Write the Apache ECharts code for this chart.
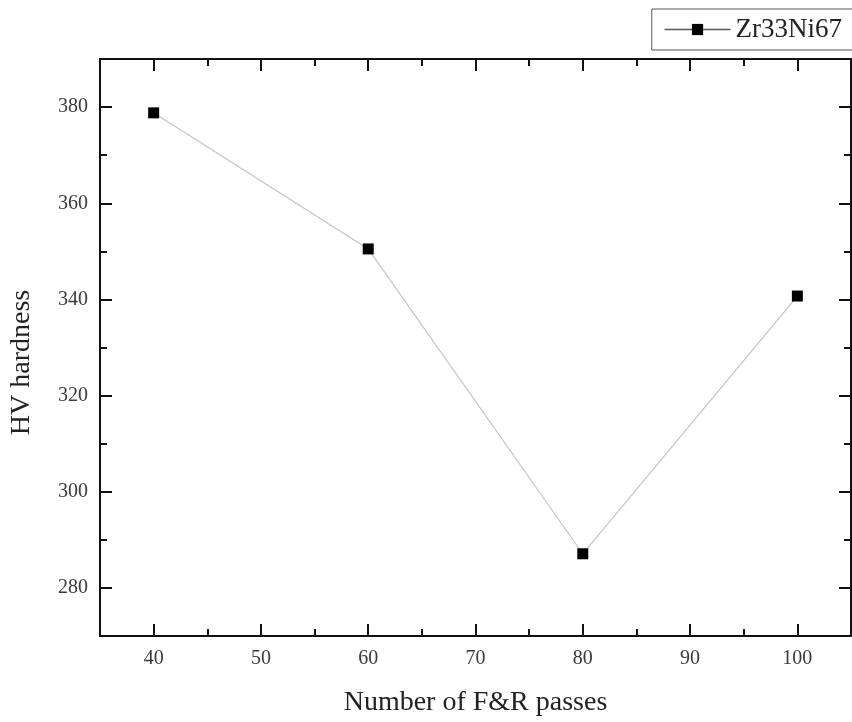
<!DOCTYPE html>
<html>
<head>
<meta charset="utf-8">
<script src="https://cdn.jsdelivr.net/npm/echarts@6/dist/echarts.min.js"></script>
<style>
  html, body { margin: 0; padding: 0; background: #fff; }
  #chart { width: 852px; height: 722px; }
</style>
</head>
<body>
<div id="chart"></div>
<script>
// F&R passes vs. Vickers hardness for the Zr33Ni67 alloy
const passes = [40, 60, 80, 100];
const hardness = [378.8, 350.5, 287.1, 340.7];
const seriesName = 'Zr33Ni67';
const xTickLabels = [40, 50, 60, 70, 80, 90, 100];
const yTickLabels = [280, 300, 320, 340, 360, 380];

const serif = '"Liberation Serif", "Times New Roman", serif';

const chart = echarts.init(document.getElementById('chart'));

// Regular ticks fall half-way between the labelled values (short ticks);
// the minor ticks land on the labelled values and are drawn long.
function frameAxis(extra) {
  return Object.assign({
    axisLine: { show: true, onZero: false, lineStyle: { color: '#111', width: 2 } },
    axisTick: { show: true, inside: true, length: 7, lineStyle: { color: '#111', width: 2 } },
    minorTick: { show: true, splitNumber: 2, length: 12, lineStyle: { color: '#111', width: 2 } },
    splitLine: { show: false },
    minorSplitLine: { show: false }
  }, extra);
}
const labelStyle = { fontFamily: serif, fontSize: 20, color: '#3a3a3a' };
const nameStyle = { fontFamily: serif, fontSize: 28, color: '#222' };

chart.setOption({
  animation: false,
  backgroundColor: '#fff',
  grid: { left: 100, right: 1, top: 59, bottom: 85 },
  legend: {
    show: true,
    right: -4,
    top: 9,
    padding: [7, 14, 7, 12],
    borderColor: '#555',
    borderWidth: 1,
    itemWidth: 66,
    itemHeight: 14,
    itemGap: 6,
    lineStyle: { color: '#555', width: 1.5 },
    textStyle: { fontFamily: serif, fontSize: 27, color: '#222' },
    data: [seriesName]
  },
  xAxis: [
    frameAxis({
      type: 'value', position: 'bottom',
      min: 35, max: 105, interval: 10,
      name: 'Number of F&R passes',
      nameLocation: 'middle',
      nameGap: 53,
      nameTextStyle: nameStyle,
      axisLabel: Object.assign({ customValues: xTickLabels, margin: 13 }, labelStyle)
    }),
    frameAxis({
      type: 'value', position: 'top',
      min: 35, max: 105, interval: 10,
      axisLabel: { show: false }
    })
  ],
  yAxis: [
    frameAxis({
      type: 'value', position: 'left',
      min: 270, max: 390, interval: 20,
      name: 'HV hardness',
      nameLocation: 'middle',
      nameGap: 64,
      nameTextStyle: Object.assign({ padding: [0, 30, 0, 0] }, nameStyle),
      axisLabel: Object.assign({ customValues: yTickLabels, margin: 12 }, labelStyle)
    }),
    frameAxis({
      type: 'value', position: 'right',
      min: 270, max: 390, interval: 20,
      axisLabel: { show: false }
    })
  ],
  series: [{
    name: seriesName,
    type: 'line',
    data: passes.map((p, i) => [p, hardness[i]]),
    symbol: 'rect',
    symbolSize: 11,
    itemStyle: { color: '#000' },
    lineStyle: { color: '#c4c4c4', width: 1.2 }
  }]
});
</script>
</body>
</html>
